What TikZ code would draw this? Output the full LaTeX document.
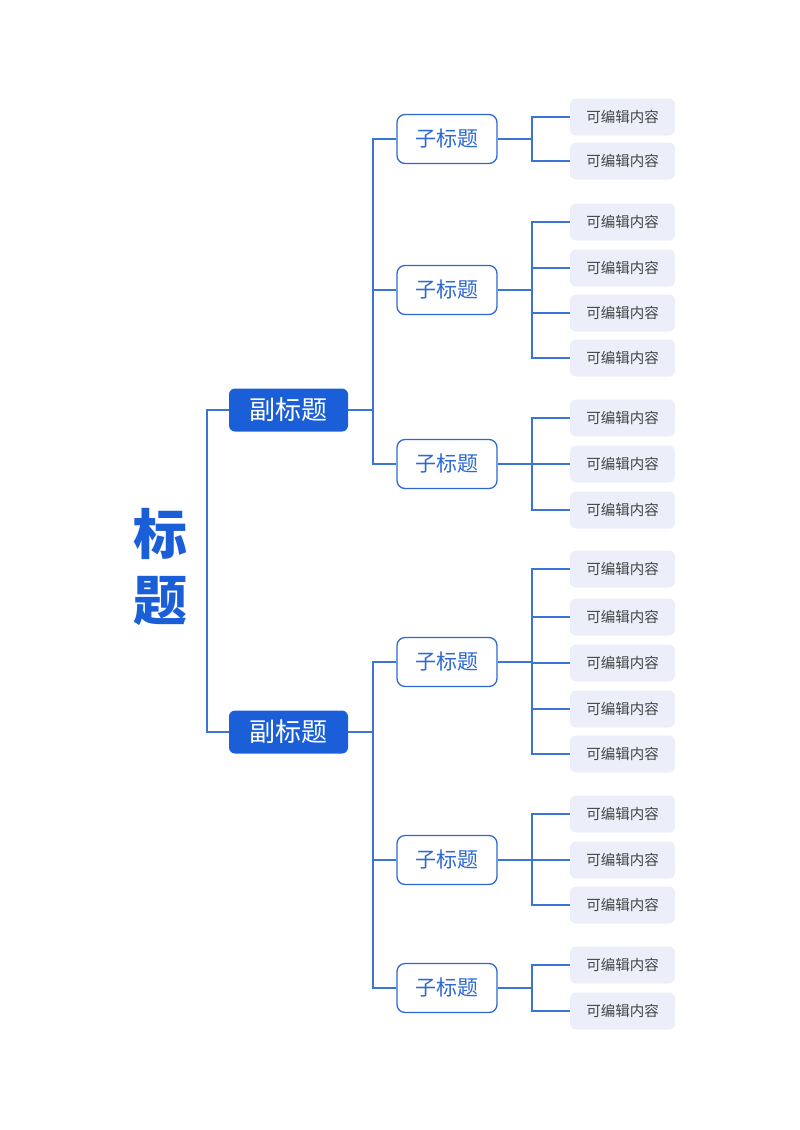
\documentclass[tikz,border=0pt]{standalone}
\usepackage{fontspec}
\setmainfont{Noto Sans CJK SC}
\usetikzlibrary{positioning}
\definecolor{mainblue}{HTML}{1B5FD8}
\definecolor{childblue}{HTML}{2D69D2}
\definecolor{lineblue}{HTML}{3B74D2}
\definecolor{leaffill}{HTML}{ECEFFA}
\definecolor{leaftext}{HTML}{444444}
\tikzset{
  x=1pt,y=-1pt,
  titletext/.style={font=\fontsize{54}{64}\selectfont\bfseries, text=mainblue, align=center, inner sep=0pt},
  subbox/.style={fill=mainblue, rounded corners=6pt, minimum width=119pt, minimum height=43pt, text=white, font=\fontsize{26}{30}\selectfont, inner sep=0pt},
  childbox/.style={draw=childblue, line width=1.3pt, fill=white, rounded corners=8pt, minimum width=100pt, minimum height=49pt, text=childblue, font=\fontsize{21}{25}\selectfont, inner sep=0pt},
  leafbox/.style={fill=leaffill, rounded corners=6pt, minimum width=105pt, minimum height=37pt, text=leaftext, font=\fontsize{14.5}{17}\selectfont, inner sep=0pt},
  conn/.style={draw=lineblue, line width=1.2pt, line join=miter},
  thickconn/.style={draw=lineblue, line width=1.8pt},
}
\begin{document}
\begin{tikzpicture}
\useasboundingbox (0,0) rectangle (800,1130);
% title
\node[titletext] (title) at (160,567) {标\\[2pt]题};
% subtitles
\node[subbox] (s1) at (288.5,410) {副标题};
\node[subbox] (s2) at (288.5,732) {副标题};
\coordinate (tj) at (207,0);
\draw[conn] (s1.west) -- (s1.west -| tj) -- (s2.west -| tj) -- (s2.west);
% children
\node[childbox] (c1) at (447,139) {子标题};
\node[childbox] (c2) at (447,290) {子标题};
\node[childbox] (c3) at (447,464) {子标题};
\node[childbox] (c4) at (447,662) {子标题};
\node[childbox] (c5) at (447,860) {子标题};
\node[childbox] (c6) at (447,988) {子标题};
\coordinate (sj) at (373,0);
\draw[conn] (s1.east) -- (s1.east -| sj);
\draw[conn] (c1.west) -- (c1.west -| sj) -- (c3.west -| sj) -- (c3.west);
\draw[conn] (c2.west) -- (c2.west -| sj);
\draw[conn] (s2.east) -- (s2.east -| sj);
\draw[conn] (c4.west) -- (c4.west -| sj) -- (c6.west -| sj) -- (c6.west);
\draw[conn] (c5.west) -- (c5.west -| sj);
% leaves
\coordinate (lj) at (532,0);
\foreach \name/\y in {l11/117,l12/161,
  l21/222,l22/268,l23/313,l24/358,
  l31/418,l32/464,l33/510,
  l41/569,l42/617,l43/663,l44/709,l45/754,
  l51/814,l52/860,l53/905,
  l61/965,l62/1011}{
  \node[leafbox] (\name) at (622.5,\y) {可编辑内容};
}
% child to leaves
\foreach \c/\first/\last/\mids in {c1/l11/l12/{},c2/l21/l24/{l22,l23},c3/l31/l33/{l32},c4/l41/l45/{l42,l43,l44},c5/l51/l53/{l52},c6/l61/l62/{}}{
  \draw[thickconn] (\c.east) -- (\c.east -| lj);
  \draw[conn] (\first.west) -- (\first.west -| lj) -- (\last.west -| lj) -- (\last.west);
  \foreach \m in \mids { \draw[conn] (\m.west) -- (\m.west -| lj); }
}
\end{tikzpicture}
\end{document}
